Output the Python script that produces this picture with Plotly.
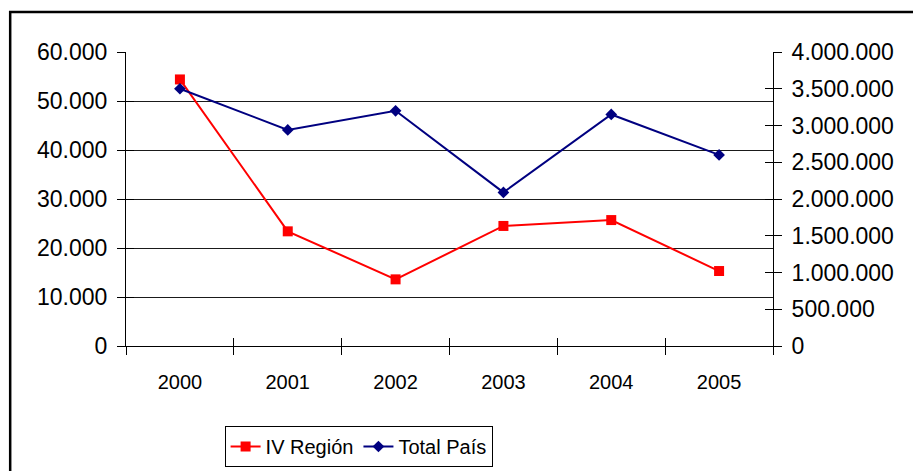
import plotly.graph_objects as go

# Annual series, 2000-2005
years = ["2000", "2001", "2002", "2003", "2004", "2005"]
iv_region = [54400, 23400, 13600, 24500, 25700, 15300]
total_pais = [3500000, 2940000, 3200000, 2090000, 3150000, 2600000]

left_ticks = [0, 10000, 20000, 30000, 40000, 50000, 60000]
right_ticks = [0, 500000, 1000000, 1500000, 2000000, 2500000, 3000000, 3500000, 4000000]

xpos = list(range(len(years)))
bounds = [i - 0.5 for i in range(len(years) + 1)]
xrange_ = [-0.5, len(years) - 0.5]

FONT = "Liberation Sans, Arial, sans-serif"

fig = go.Figure()

fig.add_trace(go.Scatter(
    x=xpos, y=iv_region, name="IV Región", mode="lines+markers",
    line=dict(color="#FF0000", width=2),
    marker=dict(symbol="square", size=10, color="#FF0000"),
    xaxis="x", yaxis="y",
))
fig.add_trace(go.Scatter(
    x=xpos, y=total_pais, name="Total País", mode="lines+markers",
    line=dict(color="#000080", width=2),
    marker=dict(symbol="diamond", size=9, color="#000080"),
    xaxis="x", yaxis="y2",
))

# empty helper traces so the overlay axes (cross ticks, year labels) are drawn
for xa, ya in [("x2", "y"), ("x3", "y"), ("x", "y3"), ("x", "y4")]:
    fig.add_trace(go.Scatter(x=[None], y=[None], xaxis=xa, yaxis=ya,
                             showlegend=False, hoverinfo="skip"))

common = dict(showgrid=False, zeroline=False, automargin=False)

fig.update_layout(
    width=913, height=471,
    margin=dict(l=126, r=140, t=52, b=125, autoexpand=False),
    paper_bgcolor="white", plot_bgcolor="white",
    separators=",.",
    font=dict(family=FONT, size=23, color="black"),
    showlegend=True,
    legend=dict(
        orientation="h", xref="container", yref="container",
        x=0.246, xanchor="left", y=0.0955, yanchor="top",
        bordercolor="black", borderwidth=1, bgcolor="white",
        font=dict(family=FONT, size=20, color="black"),
        traceorder="normal",
    ),
    xaxis=dict(
        range=xrange_, tickvals=bounds, ticks="outside", ticklen=8,
        tickcolor="black", showticklabels=False, showline=True,
        linecolor="black", linewidth=1, anchor="y", **common,
    ),
    xaxis2=dict(
        range=xrange_, tickvals=bounds, ticks="inside", ticklen=8,
        tickcolor="black", showticklabels=False, showline=False,
        overlaying="x", anchor="y", side="bottom", **common,
    ),
    xaxis3=dict(
        range=xrange_, tickvals=xpos, ticktext=years, ticks="",
        showline=False, overlaying="x", anchor="y", side="bottom",
        tickfont=dict(family=FONT, size=20),
        ticklabelstandoff=22, **common,
    ),
    yaxis=dict(
        range=[0, 60000], tickvals=left_ticks, tickformat=",d",
        ticks="outside", ticklen=8, tickcolor="black",
        showline=True, linecolor="black", linewidth=1,
        showgrid=True, gridcolor="#1a1a1a", gridwidth=1, zeroline=False,
        ticklabelstandoff=5, anchor="x", automargin=False,
    ),
    yaxis2=dict(
        range=[0, 4000000], tickvals=right_ticks, tickformat=",d",
        ticks="outside", ticklen=8, tickcolor="black",
        showline=True, linecolor="black", linewidth=1,
        overlaying="y", side="right", anchor="x",
        ticklabelstandoff=5, **common,
    ),
    yaxis3=dict(
        range=[0, 60000], tickvals=left_ticks, ticks="inside", ticklen=8,
        tickcolor="black", showticklabels=False, showline=False,
        overlaying="y", side="left", anchor="x", **common,
    ),
    yaxis4=dict(
        range=[0, 4000000], tickvals=right_ticks, ticks="inside", ticklen=8,
        tickcolor="black", showticklabels=False, showline=False,
        overlaying="y", side="right", anchor="x", **common,
    ),
)

# outer chart frame
fig.add_shape(
    type="rect", xref="paper", yref="paper",
    x0=-0.179, x1=1.6, y0=-0.6, y1=1.136,
    line=dict(color="black", width=2.5), fillcolor="rgba(0,0,0,0)",
    layer="below",
)

fig.write_html("out.html")
